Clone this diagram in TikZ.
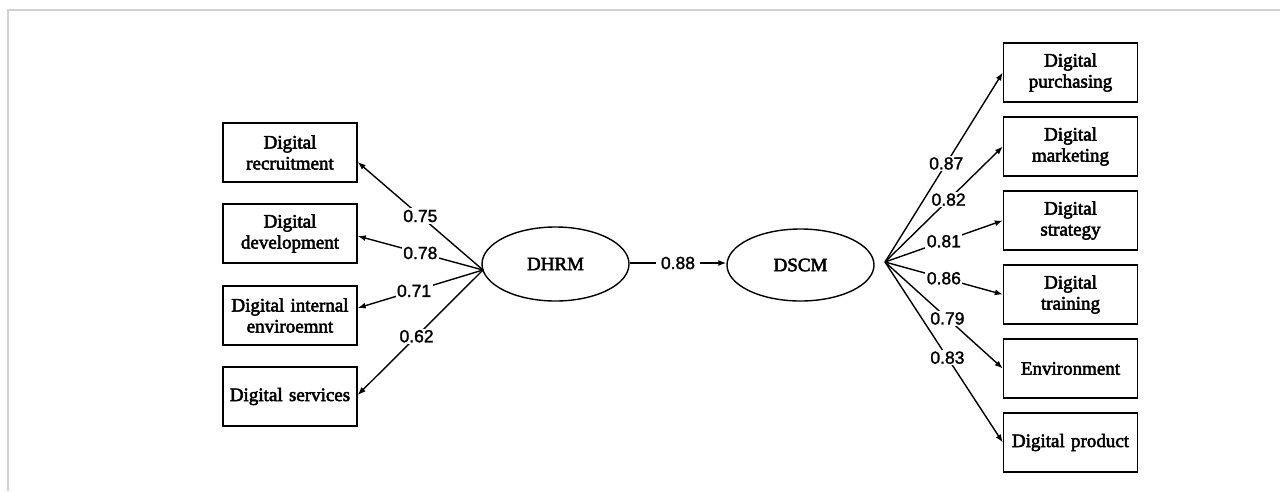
\documentclass[tikz,border=0pt]{standalone}
\usepackage{fontspec}
\setmainfont{Liberation Serif}
\newfontfamily\boxfont{Liberation Serif}[FakeBold=2.6]
\newfontfamily\labfont{Liberation Sans}[FakeBold=1.6]
\usetikzlibrary{arrows.meta,shapes.geometric}
\tikzset{
  box/.style={draw, line width=1.4pt, minimum width=134pt, minimum height=59pt,
    inner sep=0pt, text width=132pt, align=center,
    font=\boxfont\fontsize{19}{21}\selectfont},
  latent/.style={draw, ellipse, line width=1.4pt, minimum width=147pt, minimum height=74pt,
    inner sep=0pt, font=\boxfont\fontsize{19}{21}\selectfont},
  arr/.style={line width=1.4pt, -{Latex[length=8pt,width=6pt]}},
  lab/.style={fill=white, inner sep=1.5pt, font=\labfont\fontsize{17.5}{19}\selectfont},
  frame/.style={draw=black!18, line width=2pt}
}
\begin{document}
\begin{tikzpicture}[x=1pt,y=-1pt]
\useasboundingbox (0,0) rectangle (1280,491);
\draw[frame] (1280,10) -- (8,10) -- (8,491);

% left boxes
\node[box] (l1) at (290,152.5) {Digital\\recruitment};
\node[box] (l2) at (290,233.5) {Digital\\development};
\node[box] (l3) at (290,315.5) {Digital internal\\enviroemnt};
\node[box] (l4) at (290,396.5) {\raisebox{-4pt}{Digital services}};

% latent variables
\node[latent] (dhrm) at (555.5,264) {DHRM};
\node[latent, minimum height=72pt] (dscm) at (800.5,265) {DSCM};

% right boxes
\node[box] (r1) at (1070.5,72.5) {Digital\\purchasing};
\node[box] (r2) at (1070.5,146.5) {Digital\\marketing};
\node[box] (r3) at (1070.5,220.5) {Digital\\strategy};
\node[box] (r4) at (1070.5,294.5) {Digital\\training};
\node[box] (r5) at (1070.5,368.5) {Environment};
\node[box] (r6) at (1070.5,442.5) {Digital product};

\coordinate (cl) at (483,270);
\coordinate (cr) at (885,262);

% left connectors
\draw[arr] (cl) -- node[lab,pos=0.5]{0.75} ([yshift=-9.5pt]l1.east);
\draw[arr] (cl) -- node[lab,pos=0.5]{0.78} ([yshift=-2.5pt]l2.east);
\draw[arr] (cl) -- node[lab,pos=0.55]{0.71} ([yshift=7.5pt]l3.east);
\draw[arr] (cl) -- node[lab,pos=0.53]{0.62} ([yshift=1.5pt]l4.east);

% structural path
\draw[arr] ([yshift=1pt]dhrm.east) -- node[lab,inner xsep=5pt]{0.88} ([yshift=2pt]dscm.west);

% right connectors
\draw[arr] (cr) -- node[lab,pos=0.52]{0.87} (r1.west);
\draw[arr] (cr) -- node[lab,pos=0.54]{0.82} (r2.west);
\draw[arr] (cr) -- node[lab,pos=0.5]{0.81} (r3.west);
\draw[arr] (cr) -- node[lab,pos=0.5]{0.86} (r4.west);
\draw[arr] (cr) -- node[lab,pos=0.53]{0.79} (r5.west);
\draw[arr] (cr) -- node[lab,pos=0.53]{0.83} (r6.west);
\end{tikzpicture}
\end{document}
